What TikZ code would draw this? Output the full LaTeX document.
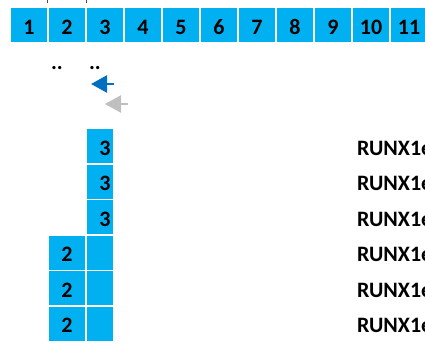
\documentclass[tikz,border=0pt]{standalone}
\usepackage{fontspec}
\setmainfont{Carlito}
\usetikzlibrary{arrows.meta}
\definecolor{cell}{HTML}{00B0F0}
\definecolor{arrblue}{HTML}{0070C0}
\definecolor{arrgray}{HTML}{BFBFBF}
\tikzset{
  cellbox/.style={fill=cell,draw=none,inner sep=0pt,minimum width=36pt,minimum height=34pt,anchor=north west},
  narrowbox/.style={fill=cell,draw=none,inner sep=0pt,minimum width=26pt,minimum height=34pt,anchor=north west},
  lbl/.style={inner sep=0pt,anchor=base,font=\fontsize{22}{26}\bfseries\selectfont},
  rowtext/.style={inner sep=0pt,anchor=base west,font=\fontsize{22}{26}\bfseries\selectfont},
  arrw/.style={line width=2.5pt,-{Triangle[length=16pt,width=17pt]}}
}
\begin{document}
\begin{tikzpicture}[x=1pt,y=-1pt]
\useasboundingbox (0,0) rectangle (425,343);
% ticks at top
\draw[line width=0.8pt,black!70] (47.5,0) -- (47.5,3);
\draw[line width=0.8pt,black!70] (86.5,0) -- (86.5,3);
% top row
\foreach \i in {1,...,11}{
  \node[cellbox] (t\i) at ({11+38*(\i-1)},8) {};
  \node[lbl] (tl\i) at ({29+38*(\i-1)},34) {\i};
}
% dots
\node[lbl] (d1) at (57,69) {..};
\node[lbl] (d2) at (95,69) {..};
% arrows
\coordinate (ab1) at (114,84);
\coordinate (ab2) at (91,84);
\coordinate (ag1) at (128,104);
\coordinate (ag2) at (105,104);
\draw[arrw,arrblue] (ab1) -- (ab2);
\draw[arrw,arrgray] (ag1) -- (ag2);
% lower column 3
\foreach \r/\y in {1/129,2/164.5,3/200,4/235.5,5/271,6/306.5}{
  \node[narrowbox] (c3r\r) at (87,\y) {};
}
\foreach \r/\y in {1/155,2/190.5,3/226}{
  \node[lbl] (n3r\r) at (105,\y) {3};
}
% lower column 2
\foreach \r/\y in {4/235.5,5/271,6/306.5}{
  \node[cellbox] (c2r\r) at (49,\y) {};
}
\foreach \r/\y in {4/261.5,5/297,6/332.5}{
  \node[lbl] (n2r\r) at (67,\y) {2};
}
% row texts
\foreach \r/\y in {1/155,2/190.5,3/226,4/261.5,5/297,6/332.5}{
  \node[rowtext] (txt\r) at (357,\y) {RUNX1e};
}
\end{tikzpicture}
\end{document}
